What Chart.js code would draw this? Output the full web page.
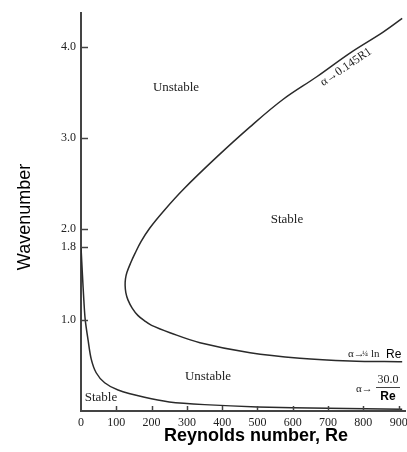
<!DOCTYPE html>
<html>
<head>
<meta charset="utf-8">
<script src="https://cdn.jsdelivr.net/npm/chart.js@4/dist/chart.umd.min.js"></script>
<style>
  body { margin: 0; background: #fff; }
  #wrap { width: 407px; height: 452px; }
</style>
</head>
<body>
<div id="wrap"><canvas id="stabilityChart" width="407" height="452"></canvas></div>
<script>
// neutral stability curve (Re, wavenumber)
const neutralRe = [910, 856, 762, 668, 572, 479, 385, 289, 235, 195, 170, 153, 140, 130, 126, 125, 127, 133, 145, 161, 180, 200, 252, 337, 479, 620, 762, 910];
const neutralAlpha = [4.31, 4.16, 3.93, 3.67, 3.42, 3.12, 2.79, 2.43, 2.2, 2.01, 1.86, 1.73, 1.62, 1.52, 1.45, 1.38, 1.3, 1.22, 1.13, 1.05, 0.99, 0.94, 0.86, 0.75, 0.64, 0.58, 0.55, 0.54];

// lower curve (alpha -> 30/Re)
const lowerRe = [0, 4, 8, 12, 20, 29, 43, 67, 105, 180, 250, 350, 500, 700, 910];
const lowerAlpha = [1.8, 1.5, 1.22, 1.0, 0.78, 0.57, 0.42, 0.31, 0.23, 0.15, 0.1, 0.07, 0.045, 0.03, 0.02];

const xTicks = [0, 100, 200, 300, 400, 500, 600, 700, 800, 900];
const yTicks = [1.0, 1.8, 2.0, 3.0, 4.0];

function toPoints(xs, ys) {
    return xs.map((x, i) => ({ x: x, y: ys[i] }));
}

const serif = "'Liberation Serif', 'DejaVu Serif', serif";
const sans = "'Liberation Sans', Arial, sans-serif";

// short tick marks pointing into the plot, plus the text annotations
const annotations = {
    id: "annotations",
    afterDatasetsDraw(chart) {
        const ctx = chart.ctx;
        const area = chart.chartArea;
        const xs = chart.scales.x;
        const ys = chart.scales.y;

        ctx.save();
        ctx.strokeStyle = "#444";
        ctx.lineWidth = 1.5;
        ys.ticks.forEach((t) => {
            let y = Math.round(ys.getPixelForValue(t.value)) + 0.5;
            ctx.beginPath();
            ctx.moveTo(area.left, y);
            ctx.lineTo(area.left + 7, y);
            ctx.stroke();
        });
        xs.ticks.forEach((t) => {
            if (t.value === 0) return;
            let x = Math.round(xs.getPixelForValue(t.value)) + 0.5;
            ctx.beginPath();
            ctx.moveTo(x, area.bottom);
            ctx.lineTo(x, area.bottom - 5);
            ctx.stroke();
        });

        ctx.fillStyle = "#222";
        ctx.textAlign = "center";
        ctx.textBaseline = "middle";
        ctx.font = "13px " + serif;
        ctx.fillText("Unstable", 176, 88);
        ctx.fillText("Stable", 287, 220);
        ctx.fillText("Unstable", 208, 377);
        ctx.fillText("Stable", 101, 398);

        // asymptote on the upper branch
        ctx.save();
        ctx.translate(346, 67);
        ctx.rotate(-34 * Math.PI / 180);
        ctx.font = "12px " + serif;
        ctx.fillText("\u03b1\u21920.145R1", 0, 0);
        ctx.restore();

        // alpha -> 1/4 ln Re
        ctx.textAlign = "left";
        ctx.font = "11px " + serif;
        ctx.fillText("\u03b1\u2192", 348, 354);
        ctx.font = "8px " + serif;
        ctx.fillText("\u00bc", 362, 354);
        ctx.font = "11px " + serif;
        ctx.fillText("ln", 371, 354);
        ctx.fillStyle = "#000";
        ctx.font = "12px " + sans;
        ctx.fillText("Re", 386, 355);

        // alpha -> 30.0/Re
        ctx.fillStyle = "#222";
        ctx.font = "11px " + serif;
        ctx.fillText("\u03b1\u2192", 356, 389);
        ctx.textAlign = "center";
        ctx.font = "12px " + serif;
        ctx.fillText("30.0", 388, 380);
        ctx.beginPath();
        ctx.lineWidth = 1;
        ctx.moveTo(376, 387.5);
        ctx.lineTo(400, 387.5);
        ctx.stroke();
        ctx.fillStyle = "#000";
        ctx.font = "bold 12px " + sans;
        ctx.fillText("Re", 388, 397);

        // axis titles
        ctx.font = "bold 18px " + sans;
        ctx.fillText("Reynolds number, Re", 256, 436);
        ctx.save();
        ctx.translate(25, 217);
        ctx.rotate(-Math.PI / 2);
        ctx.font = "18px " + sans;
        ctx.fillText("Wavenumber", 0, 0);
        ctx.restore();
        ctx.restore();
    }
};

const ctx = document.getElementById("stabilityChart").getContext("2d");
const stabilityChart = new Chart(ctx, {
    type: "scatter",
    data: {
        datasets: [
            {
                label: "Neutral curve",
                data: toPoints(neutralRe, neutralAlpha),
                showLine: true,
                borderColor: "#2a2a2a",
                borderWidth: 1.5,
                pointRadius: 0,
                tension: 0.35,
                fill: false
            },
            {
                label: "Lower curve",
                data: toPoints(lowerRe, lowerAlpha),
                showLine: true,
                borderColor: "#2a2a2a",
                borderWidth: 1.5,
                pointRadius: 0,
                tension: 0.3,
                fill: false
            }
        ]
    },
    options: {
        responsive: false,
        animation: false,
        layout: { padding: { top: 13, right: 2, left: 0, bottom: 0 } },
        plugins: {
            legend: { display: false },
            tooltip: { enabled: false }
        },
        scales: {
            x: {
                type: "linear",
                min: 0,
                max: 918,
                grid: { display: false, drawTicks: false },
                border: { display: true, color: "#444", width: 2 },
                afterBuildTicks: (scale) => {
                    scale.ticks = xTicks.map((v) => ({ value: v }));
                },
                afterFit: (scale) => {
                    scale.height = 41;
                    scale.paddingLeft = 0;
                    scale.paddingRight = 0;
                },
                ticks: {
                    padding: 5,
                    color: "#222",
                    font: { family: serif, size: 12 },
                    maxRotation: 0,
                    autoSkip: false
                }
            },
            y: {
                type: "linear",
                min: 0,
                max: 4.37,
                grid: { display: false, drawTicks: false },
                border: { display: true, color: "#444", width: 2 },
                afterBuildTicks: (scale) => {
                    scale.ticks = yTicks.map((v) => ({ value: v }));
                },
                afterFit: (scale) => {
                    scale.width = 81;
                    scale.paddingTop = 0;
                    scale.paddingBottom = 0;
                },
                ticks: {
                    padding: 5,
                    color: "#222",
                    font: { family: serif, size: 12 },
                    autoSkip: false,
                    callback: (value) => value.toFixed(1)
                }
            }
        }
    },
    plugins: [annotations]
});
</script>
</body>
</html>
